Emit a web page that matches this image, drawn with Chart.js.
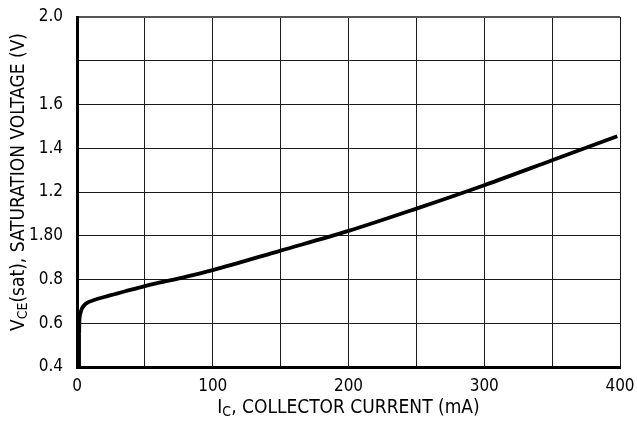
<!DOCTYPE html>
<html>
<head>
<meta charset="utf-8">
<script src="https://cdn.jsdelivr.net/npm/chart.js@4/dist/chart.umd.min.js"></script>
<style>
  html, body { margin: 0; padding: 0; background: #fff; }
  #wrap { width: 637px; height: 434px; position: relative; }
</style>
</head>
<body>
<div id="wrap"><canvas id="c" width="637" height="434"></canvas></div>
<script>
// Collector current (mA) and saturation voltage VCE(sat) (V)
const currentMA = [1.5, 1.5, 1.8, 2.5, 3.5, 5, 8, 12, 20, 35, 50, 75, 100, 150, 200, 250, 300, 350, 398];
const vceSat    = [0.40, 0.55, 0.615, 0.645, 0.665, 0.68, 0.695, 0.705, 0.72, 0.745, 0.77, 0.805, 0.843, 0.932, 1.022, 1.124, 1.231, 1.345, 1.455];

// Axis tick labels
const xTickLabels = { 0: "0", 100: "100", 200: "200", 300: "300", 400: "400" };
const yTickLabels = ["0.4", "0.6", "0.8", "1.80", "1.2", "1.4", "1.6", "", "2.0"];

const FONT = "'DejaVu Sans Condensed', 'DejaVu Sans', sans-serif";

// Axis titles with subscripts, drawn on the canvas
const axisTitles = {
  id: 'axisTitles',
  afterDraw(chart) {
    const ctx = chart.ctx;
    const area = chart.chartArea;
    const big = "19px " + FONT;
    const small = "14px " + FONT;

    function drawParts(parts, cx, cy) {
      let total = 0;
      parts.forEach(p => { ctx.font = p.sub ? small : big; total += ctx.measureText(p.t).width; });
      let x = cx - total / 2;
      parts.forEach(p => {
        ctx.font = p.sub ? small : big;
        ctx.fillText(p.t, x, cy + (p.sub ? 4 : 0));
        x += ctx.measureText(p.t).width;
      });
    }

    ctx.save();
    ctx.fillStyle = '#000';
    ctx.textBaseline = 'middle';
    ctx.textAlign = 'left';
    drawParts([{ t: "I" }, { t: "C", sub: true }, { t: ", COLLECTOR CURRENT (mA)" }],
              (area.left + area.right) / 2, 408);
    ctx.translate(19, 182);
    ctx.rotate(-Math.PI / 2);
    drawParts([{ t: "V" }, { t: "CE", sub: true }, { t: "(sat), SATURATION VOLTAGE (V)" }], 0, 0);
    ctx.restore();
  }
};

// Fixed scale sizes, no extra room for overhanging tick labels
function noOverhang(scale) {
  scale.paddingTop = 0;
  scale.paddingBottom = 0;
  scale.paddingLeft = 0;
  scale.paddingRight = 0;
}

new Chart(document.getElementById('c'), {
  type: 'line',
  data: {
    datasets: [{
      data: currentMA.map((x, i) => ({ x: x, y: vceSat[i] })),
      borderColor: '#000',
      borderWidth: 3.8,
      pointRadius: 0,
      fill: false,
      cubicInterpolationMode: 'monotone'
    }]
  },
  options: {
    responsive: false,
    animation: false,
    devicePixelRatio: 1,
    layout: { padding: { top: 17, right: 17, left: 0, bottom: 0 } },
    plugins: { legend: { display: false }, tooltip: { enabled: false } },
    scales: {
      x: {
        type: 'linear',
        min: 0, max: 400,
        afterFit(scale) { scale.height = 67; noOverhang(scale); },
        ticks: {
          stepSize: 50,
          autoSkip: false,
          maxRotation: 0,
          padding: 9,
          color: '#000',
          font: { family: FONT, size: 17 },
          callback: v => (v in xTickLabels ? xTickLabels[v] : '')
        },
        grid: { color: '#1a1a1a', lineWidth: 1, drawTicks: false },
        border: { display: true, color: '#000', width: 3 }
      },
      y: {
        type: 'linear',
        min: 0.4, max: 2.0,
        afterFit(scale) { scale.width = 77; noOverhang(scale); },
        ticks: {
          stepSize: 0.2,
          autoSkip: false,
          padding: 14,
          color: '#000',
          font: { family: FONT, size: 17 },
          callback: (v, i) => yTickLabels[i]
        },
        grid: {
          color: ctx => (ctx.index === 8 ? '#555' : '#1a1a1a'),
          lineWidth: ctx => (ctx.index === 8 ? 2 : 1),
          drawTicks: false
        },
        border: { display: true, color: '#000', width: 3 }
      }
    }
  },
  plugins: [axisTitles]
});
</script>
</body>
</html>
